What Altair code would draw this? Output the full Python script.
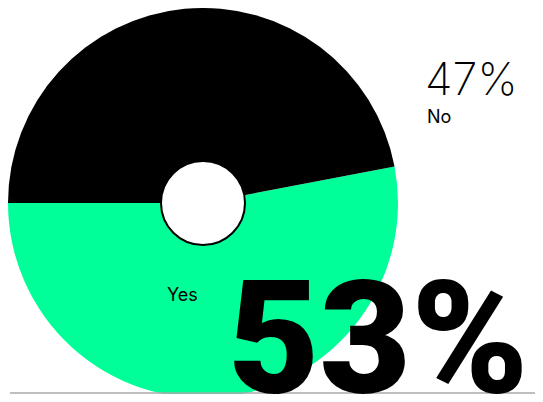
import math
import altair as alt
import pandas as pd

categories = ["Yes", "No"]
values = [53, 47]
colors = ["#00ff99", "#000000"]

df = pd.DataFrame({"answer": categories, "value": values, "order": [0, 1]})

start = math.radians(270 - 360 * values[0] / 100)

pie = alt.Chart(df).mark_arc(outerRadius=195, innerRadius=0).encode(
    theta=alt.Theta("value:Q", stack=True,
                    scale=alt.Scale(range=[start, start + 2 * math.pi])),
    color=alt.Color("answer:N", scale=alt.Scale(domain=categories, range=colors), legend=None),
    order=alt.Order("order:Q"),
    x=alt.value(195),
    y=alt.value(195),
)

hole = alt.Chart(pd.DataFrame({"a": [1]})).mark_point(
    shape="circle", filled=True, fill="white", stroke="black", strokeWidth=2, opacity=1
).encode(x=alt.value(195), y=alt.value(195), size=alt.value(84 ** 2))

big = alt.Chart(pd.DataFrame({"t": [f"{values[0]}%"]})).mark_text(
    font="Roboto", fontWeight=900, fontSize=158, align="left", baseline="alphabetic", color="black"
).encode(text="t:N", x=alt.value(220), y=alt.value(384))

small = alt.Chart(pd.DataFrame({"t": [f"{values[1]}%"]})).mark_text(
    font="Inter", fontWeight=200, fontSize=45, align="left", baseline="alphabetic", color="black"
).encode(text="t:N", x=alt.value(417), y=alt.value(87))

no_lbl = alt.Chart(pd.DataFrame({"t": [categories[1]]})).mark_text(
    font="Inter", fontWeight=400, fontSize=18, align="left", baseline="alphabetic", color="black"
).encode(text="t:N", x=alt.value(419), y=alt.value(115))

yes_lbl = alt.Chart(pd.DataFrame({"t": [categories[0]]})).mark_text(
    font="Inter", fontWeight=400, fontSize=18, align="left", baseline="alphabetic", color="black"
).encode(text="t:N", x=alt.value(159), y=alt.value(293))

line = alt.Chart(pd.DataFrame({"a": [1]})).mark_rule(color="#aaaaaa", strokeWidth=1.5).encode(
    x=alt.value(2), x2=alt.value(535), y=alt.value(385)
)

chart = alt.layer(pie, hole, line, yes_lbl, no_lbl, small, big).properties(
    width=527, height=386,
    padding=0,
    autosize=alt.AutoSizeParams(type="none"),
).configure_view(stroke=None)

chart.save("out.html", embed_options={"renderer": "svg", "actions": False})
